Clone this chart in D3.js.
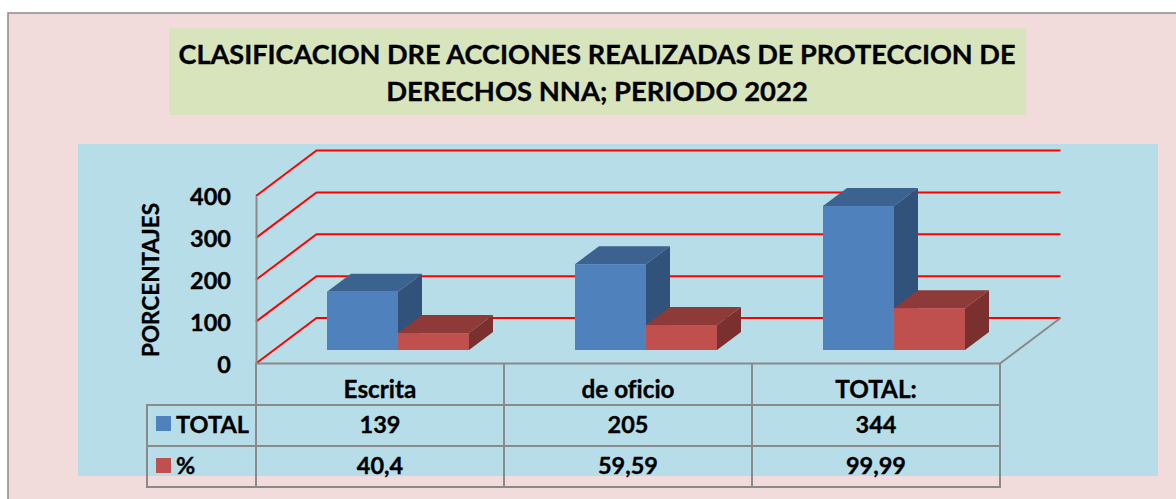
<!DOCTYPE html>
<html><head><meta charset="utf-8">
<script src="https://cdn.jsdelivr.net/npm/d3@7/dist/d3.min.js"></script>
<style>html,body{margin:0;padding:0;background:#fff}svg{display:block}text{font-family:Lato,"Open Sans",sans-serif;font-weight:700;fill:#000;stroke:#000;stroke-width:.35px;font-variant-ligatures:none}</style>
</head><body><div id="c"></div>
<script>
const categories = ["Escrita", "de oficio", "TOTAL:"];
const seriesNames = ["TOTAL", "%"];
const totalValues = [139, 205, 344];
const pctValues = [40.4, 59.59, 99.99];
const totalLabels = ["139", "205", "344"];
const pctLabels = ["40,4", "59,59", "99,99"];
const yTicks = [0, 100, 200, 300, 400];
const titleLines = ["CLASIFICACION DRE ACCIONES REALIZADAS DE PROTECCION DE", "DERECHOS NNA; PERIODO 2022"];
const yTitle = "PORCENTAJES";

const W = 1176, H = 499;
const grey = "#8a8a8a", red = "#ff0000";
const frontL = 256, frontR = 1000, floorFront = 363.5, dxWall = 60.5, dyWall = -45.5;
const barDx = 24, barDy = -18, barOffX = 18, barOffY = -13.5;
const svg = d3.select("#c").append("svg").attr("width", W).attr("height", H);

svg.append("rect").attr("x", 8).attr("y", 13).attr("width", W - 8 + 2).attr("height", H - 13 + 2)
  .attr("fill", "#f2dcdb").attr("stroke", grey).attr("stroke-width", 1.5);
svg.append("rect").attr("x", 169).attr("y", 28).attr("width", 857).attr("height", 87).attr("fill", "#d8e4bc");
svg.append("rect").attr("x", 78).attr("y", 144).attr("width", 1080).attr("height", 332).attr("fill", "#b7dde8");

svg.selectAll(".title").data(titleLines).join("text").attr("class", "title")
  .attr("x", 597).attr("y", (d, i) => 64 + i * 37).attr("text-anchor", "middle")
  .attr("font-size", (d, i) => i ? 27.4 : 27.1).text(d => d);

const y = d3.scaleLinear().domain([0, 400]).range([floorFront, floorFront - 167.5]);
const x0 = d3.scaleBand().domain(categories).range([frontL, frontR]);
const x1 = d3.scaleBand().domain(seriesNames).range([0, 142]);
const groupPad = (x0.bandwidth() - 142) / 2;

// gridlines on the walls
const grid = svg.append("g").attr("fill", "none").attr("stroke", red).attr("stroke-width", 2);
yTicks.forEach(t => {
  grid.append("path").attr("d", d3.line()([
    [frontL, y(t)], [frontL + dxWall, y(t) + dyWall], [frontR + dxWall, y(t) + dyWall]
  ]));
});

// y axis with library ticks
const axis = svg.append("g").attr("transform", `translate(${frontL},0)`)
  .call(d3.axisLeft(y).tickValues(yTicks).tickSize(0).tickPadding(25).tickFormat(d3.format("d")));
axis.select(".domain").attr("stroke", grey).attr("stroke-width", 2);
axis.selectAll("text").attr("font-size", 23.5).attr("dy", "0.38em");

// floor
svg.append("path").attr("d", d3.line()([
  [frontR, floorFront], [frontR + dxWall, floorFront + dyWall]
])).attr("stroke", grey).attr("stroke-width", 2).attr("fill", "none");

// 3D bars
const palette = {
  TOTAL: { front: "#4f81bd", top: "#3c628f", side: "#31527a" },
  "%": { front: "#c0504d", top: "#8e3a38", side: "#7a302e" }
};
function bar(g, x, w, v, c) {
  const y0 = y(0) + barOffY, y1 = y(v) + barOffY;
  g.append("path").attr("fill", c.side).attr("d", d3.line()([
    [x + w, y1], [x + w + barDx, y1 + barDy], [x + w + barDx, y0 + barDy], [x + w, y0]]));
  g.append("path").attr("fill", c.top).attr("d", d3.line()([
    [x, y1], [x + barDx, y1 + barDy], [x + w + barDx, y1 + barDy], [x + w, y1]]));
  g.append("rect").attr("x", x).attr("y", y1).attr("width", w).attr("height", y0 - y1).attr("fill", c.front);
}
const bars = svg.append("g");
categories.forEach((cat, i) => {
  const gx = x0(cat) + groupPad + barOffX;
  bar(bars, gx + x1("TOTAL"), x1.bandwidth(), totalValues[i], palette.TOTAL);
  bar(bars, gx + x1("%"), x1.bandwidth(), pctValues[i], palette["%"]);
});

// data table
const rowY = [floorFront, 405, 446, 487];
const tableL = 147;
const tg = svg.append("g").attr("stroke", grey).attr("stroke-width", 2).attr("fill", "none");
tg.append("path").attr("d", d3.line()([[frontL, rowY[0]], [frontR, rowY[0]], [frontR, rowY[3]], [tableL, rowY[3]], [tableL, rowY[1]], [frontR, rowY[1]]]));
tg.append("path").attr("d", d3.line()([[tableL, rowY[2]], [frontR, rowY[2]]]));
[frontL, ...categories.slice(1).map(c => x0(c))].forEach(px => {
  tg.append("path").attr("d", d3.line()([[px, rowY[0]], [px, rowY[3]]]));
});
const center = c => x0(c) + x0.bandwidth() / 2;
const cellText = (labels, yy, fs) => svg.append("g").selectAll("text").data(labels).join("text")
  .attr("x", (d, i) => center(categories[i])).attr("y", yy).attr("text-anchor", "middle")
  .attr("font-size", fs).text(d => d);
cellText(categories, 398, 24.3);
cellText(totalLabels, 432.5, 23.5);
cellText(pctLabels, 474, 23.5);

// legend keys in table
[[seriesNames[0], 424, palette.TOTAL.front, 432.5], [seriesNames[1], 466, palette["%"].front, 474]].forEach(([name, cy, col, ty]) => {
  svg.append("rect").attr("x", 156).attr("y", cy - 8).attr("width", 15).attr("height", 15).attr("fill", col);
  svg.append("text").attr("x", 176).attr("y", ty).attr("font-size", 23.5).text(name);
});

// y-axis title
svg.append("text").attr("transform", "translate(159,280) rotate(-90)").attr("text-anchor", "middle")
  .attr("font-size", 22.5).text(yTitle);
</script></body></html>
